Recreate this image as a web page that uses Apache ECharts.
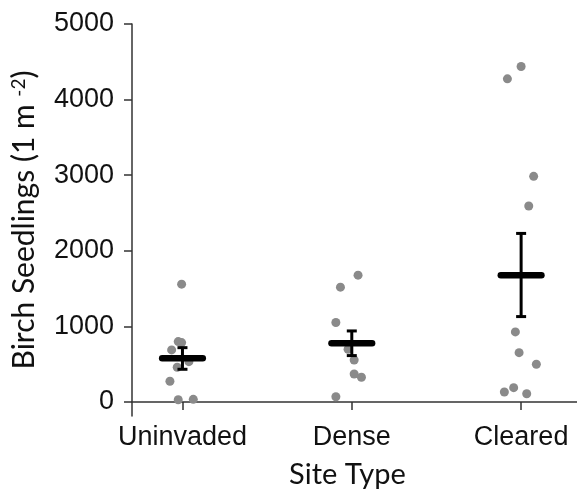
<!DOCTYPE html>
<html>
<head>
<meta charset="utf-8">
<script src="https://cdn.jsdelivr.net/npm/echarts@6/dist/echarts.min.js"></script>
<style>
  html, body { margin: 0; padding: 0; background: #fff; }
  #chart { width: 577px; height: 491px; }
</style>
</head>
<body>
<div id="chart"></div>
<script>
const sites = ['Uninvaded', 'Dense', 'Cleared']
const yTicks = [0, 1000, 2000, 3000, 4000, 5000]

// seedlings per plot
const uninvadedValues = [1559, 799, 786, 689, 534, 460, 274, 30, 35]
const denseValues = [1678, 1519, 1051, 698, 556, 371, 327, 70]
const clearedValues = [4438, 4275, 2985, 2592, 927, 653, 499, 190, 132, 110]

// horizontal jitter of each dot (in category widths)
const uninvadedJitter = [-0.005, -0.025, -0.005, -0.064, 0.038, -0.031, -0.074, -0.025, 0.064]
const denseJitter = [0.037, -0.067, -0.094, -0.022, 0.014, 0.014, 0.057, -0.094]
const clearedJitter = [0, -0.081, 0.074, 0.045, -0.034, -0.012, 0.09, -0.044, -0.099, 0.033]

// mean and error bar ends
const means = [579, 777, 1678]
const errLow = [433, 614, 1130]
const errHigh = [719, 940, 2230]

const groups = [
  [uninvadedValues, uninvadedJitter],
  [denseValues, denseJitter],
  [clearedValues, clearedJitter]
]
let dots = []
groups.forEach((g, i) => {
  g[0].forEach((v, k) => dots.push([i + 1 + g[1][k], v]))
})
const summary = sites.map((s, i) => [i + 1, means[i], errLow[i], errHigh[i]])

const titleFont = 'Lato'
const tickFont = 'Liberation Sans'

const option = {
  animation: false,
  grid: { left: 132, right: 0, top: 24, bottom: 75, outerBoundsMode: 'none', containLabel: false },
  xAxis: {
    type: 'value',
    min: 0.702,
    max: 3.33,
    name: 'Site Type',
    nameLocation: 'middle',
    nameGap: 44,
    nameTextStyle: { fontFamily: titleFont, fontSize: 29, color: '#111', padding: [0, 14, 0, 0] },
    splitLine: { show: false },
    axisLine: { lineStyle: { color: '#333', width: 1.5 } },
    axisTick: { customValues: [1, 2, 3], length: 8, lineStyle: { color: '#333', width: 1.5 } },
    axisLabel: {
      customValues: [1, 2, 3],
      formatter: v => sites[Math.round(v) - 1],
      fontFamily: tickFont, fontSize: 27, color: '#111', margin: 8
    }
  },
  yAxis: {
    type: 'value',
    min: -185,
    max: 5000,
    name: 'Birch Seedlings (1 m {sup|-2})',
    nameLocation: 'middle',
    nameGap: 93,
    nameTextStyle: {
      fontFamily: titleFont, fontSize: 30, color: '#111',
      rich: { sup: { fontFamily: titleFont, fontSize: 19, verticalAlign: 'top', color: '#111' } }
    },
    splitLine: { show: false },
    axisLine: { show: true, lineStyle: { color: '#333', width: 1.5 } },
    axisTick: { show: true, customValues: yTicks, length: 8, lineStyle: { color: '#333', width: 1.5 } },
    axisLabel: {
      customValues: yTicks,
      formatter: v => String(v),
      fontFamily: tickFont, fontSize: 27, color: '#111', margin: 18
    }
  },
  series: [
    {
      type: 'scatter',
      data: dots,
      symbolSize: 9,
      itemStyle: { color: '#8a8a8a', opacity: 1 },
      z: 2
    },
    {
      type: 'custom',
      data: summary,
      z: 3,
      renderItem(params, api) {
        const x = api.value(0)
        const m = api.coord([x, api.value(1)])
        const lo = api.coord([x, api.value(2)])
        const hi = api.coord([x, api.value(3)])
        const half = api.size([0.12, 0])[0]
        const cap = 5
        const thin = { stroke: '#000', lineWidth: 3 }
        return {
          type: 'group',
          children: [
            { type: 'line', shape: { x1: lo[0], y1: lo[1], x2: hi[0], y2: hi[1] }, style: thin },
            { type: 'line', shape: { x1: lo[0] - cap, y1: lo[1], x2: lo[0] + cap, y2: lo[1] }, style: thin },
            { type: 'line', shape: { x1: hi[0] - cap, y1: hi[1], x2: hi[0] + cap, y2: hi[1] }, style: thin },
            {
              type: 'line',
              shape: { x1: m[0] - half, y1: m[1], x2: m[0] + half, y2: m[1] },
              style: { stroke: '#000', lineWidth: 6.5, lineCap: 'round' }
            }
          ]
        }
      }
    }
  ]
}

const chart = echarts.init(document.getElementById('chart'))
chart.setOption(option)
</script>
</body>
</html>
